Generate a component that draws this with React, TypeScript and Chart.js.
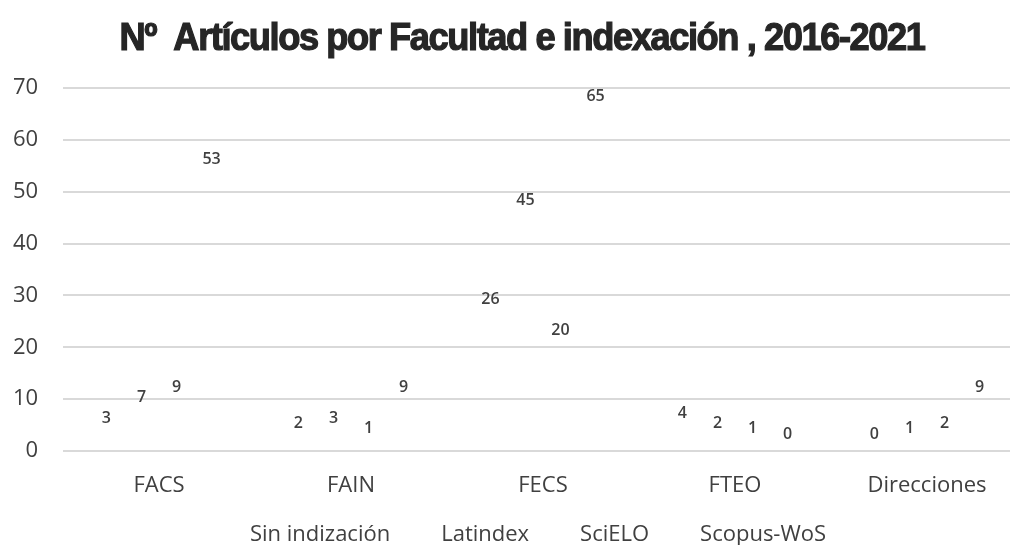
import React, { useEffect, useRef } from "react";
import { Chart, registerables } from "chart.js";

Chart.register(...registerables);

const chartTitle = "Nº  Artículos por Facultad e indexación , 2016-2021";
const categories = ["FACS", "FAIN", "FECS", "FTEO", "Direcciones"];
const seriesNames = ["Sin indización", "Latindex", "SciELO", "Scopus-WoS"];
const sinIndizacion = [3, 2, 26, 4, 0];
const latindex = [7, 3, 45, 2, 1];
const scielo = [9, 1, 20, 1, 2];
const scopusWos = [53, 9, 65, 0, 9];
const yMin = 0;
const yMax = 70;
const yStep = 10;

const seriesValues = [sinIndizacion, latindex, scielo, scopusWos];

const TEXT = "#404040";
const FONT = '"Open Sans", "Noto Sans", sans-serif';

const titlePlugin = {
  id: "condensedTitle",
  afterDraw(chart: any) {
    const ctx = chart.ctx;
    ctx.save();
    ctx.font = 'bold 38px "Liberation Sans", Arial, sans-serif';
    try {
      (ctx as any).letterSpacing = "-1.5px";
    } catch (e) {}
    const w = ctx.measureText(chartTitle).width;
    const sx = 805 / w;
    ctx.translate(522, 50);
    ctx.scale(sx, 1);
    ctx.textAlign = "center";
    ctx.textBaseline = "alphabetic";
    ctx.fillStyle = "#262626";
    ctx.strokeStyle = "#262626";
    ctx.lineWidth = 1.2;
    ctx.fillText(chartTitle, 0, 0);
    ctx.strokeText(chartTitle, 0, 0);
    ctx.restore();
  },
};

const valueLabelPlugin = {
  id: "valueLabels",
  afterDatasetsDraw(chart: any) {
    const ctx = chart.ctx;
    ctx.save();
    ctx.font = `600 16px ${FONT}`;
    ctx.fillStyle = TEXT;
    ctx.textAlign = "center";
    ctx.textBaseline = "middle";
    chart.data.datasets.forEach((ds: any, di: number) => {
      const meta = chart.getDatasetMeta(di);
      meta.data.forEach((bar: any, i: number) => {
        ctx.fillText(String(ds.data[i]), bar.x, bar.y - 17);
      });
    });
    ctx.restore();
  },
};

export default function App() {
  const canvasRef = useRef<HTMLCanvasElement | null>(null);

  useEffect(() => {
    if (!canvasRef.current) return;
    const padL = 27;
    const chart = new Chart(canvasRef.current, {
      type: "bar",
      data: {
        labels: categories,
        datasets: seriesNames.map((name, i) => ({
          label: name,
          data: seriesValues[i],
          backgroundColor: "rgba(0,0,0,0)",
          borderColor: "rgba(0,0,0,0)",
          borderWidth: 0,
          categoryPercentage: 0.73,
          barPercentage: 1,
        })),
      },
      options: {
        animation: false,
        responsive: false,
        maintainAspectRatio: false,
        events: [],
        layout: { padding: { left: padL, right: 1, top: 88, bottom: 0 } },
        plugins: {
          title: { display: false },
          tooltip: { enabled: false },
          legend: {
            display: true,
            position: "bottom",
            labels: {
              boxWidth: 15,
              boxHeight: 22,
              padding: 25,
              color: TEXT,
              font: { family: FONT, size: 22 },
            },
          },
        },
        scales: {
          x: {
            afterFit(scale: any) {
              scale.height = 48;
            },
            grid: { display: false, drawTicks: false },
            border: { display: false },
            ticks: { color: TEXT, padding: 22, font: { family: FONT, size: 22 } },
          },
          y: {
            min: yMin,
            max: yMax,
            afterFit(scale: any) {
              scale.width = 63 - padL;
            },
            grid: { color: "#d9d9d9", lineWidth: 2, drawTicks: false },
            border: { display: false },
            ticks: {
              stepSize: yStep,
              color: TEXT,
              mirror: true,
              crossAlign: "far",
              padding: -50,
              font: { family: FONT, size: 22 },
            },
          },
        },
      },
      plugins: [titlePlugin, valueLabelPlugin],
    });
    return () => chart.destroy();
  }, []);

  return (
    <div
      style={{
        position: "fixed",
        left: 0,
        top: 0,
        width: 1010,
        height: 545,
        overflow: "hidden",
        background: "#ffffff",
      }}
    >
      <canvas ref={canvasRef} width={1024} height={556} style={{ display: "block" }} />
    </div>
  );
}
